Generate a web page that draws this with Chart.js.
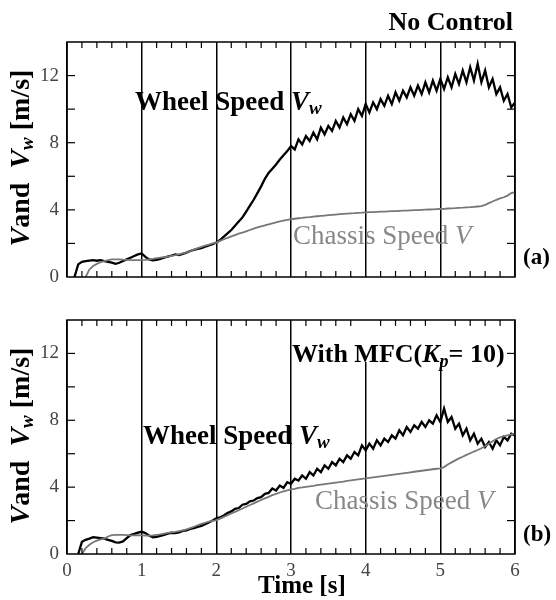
<!DOCTYPE html>
<html>
<head>
<meta charset="utf-8">
<script src="https://cdn.jsdelivr.net/npm/chart.js@4.4.0/dist/chart.umd.min.js"></script>
<style>
  body { margin: 0; background: #fff; }
  .panel { position: absolute; left: 0; width: 556px; height: 300px; }
</style>
</head>
<body>
<div class="panel" style="top:0"><canvas id="chartA" width="556" height="300"></canvas></div>
<div class="panel" style="top:300px"><canvas id="chartB" width="556" height="300"></canvas></div>
<script>
// time [s]
var time = [
  0, 0.05, 0.1, 0.15, 0.2, 0.25, 0.3, 0.35, 0.4, 0.45,
  0.5, 0.55, 0.6, 0.65, 0.7, 0.75, 0.8, 0.85, 0.9, 0.95,
  1, 1.05, 1.1, 1.15, 1.2, 1.25, 1.3, 1.35, 1.4, 1.45,
  1.5, 1.55, 1.6, 1.65, 1.7, 1.75, 1.8, 1.85, 1.9, 1.95,
  2, 2.05, 2.1, 2.15, 2.2, 2.25, 2.3, 2.35, 2.4, 2.45,
  2.5, 2.55, 2.6, 2.65, 2.7, 2.75, 2.8, 2.85, 2.9, 2.95,
  3, 3.05, 3.1, 3.15, 3.2, 3.25, 3.3, 3.35, 3.4, 3.45,
  3.5, 3.55, 3.6, 3.65, 3.7, 3.75, 3.8, 3.85, 3.9, 3.95,
  4, 4.05, 4.1, 4.15, 4.2, 4.25, 4.3, 4.35, 4.4, 4.45,
  4.5, 4.55, 4.6, 4.65, 4.7, 4.75, 4.8, 4.85, 4.9, 4.95,
  5, 5.05, 5.1, 5.15, 5.2, 5.25, 5.3, 5.35, 5.4, 5.45,
  5.5, 5.55, 5.6, 5.65, 5.7, 5.75, 5.8, 5.85, 5.9, 5.95,
  6
];

// (a) No Control
var wheelA = [
  null, null, 0, 0.75, 0.9, 0.95, 0.98, 1.0, 0.97, 1.0,
  0.95, 0.9, 0.85, 0.78, 0.85, 0.95, 1.05, 1.15, 1.25, 1.35,
  1.4, 1.2, 1.05, 1.0, 1.02, 1.08, 1.15, 1.22, 1.28, 1.35,
  1.3, 1.38, 1.45, 1.55, 1.62, 1.68, 1.72, 1.8, 1.88, 1.95,
  2.05, 2.2, 2.4, 2.6, 2.8, 3.05, 3.3, 3.55, 3.9, 4.25,
  4.6, 5.0, 5.4, 5.85, 6.2, 6.45, 6.7, 7.0, 7.25, 7.5,
  7.8, 7.6, 8.2, 7.9, 8.4, 8.1, 8.6, 8.2, 8.9, 8.5,
  9.0, 8.7, 9.3, 8.9, 9.5, 9.1, 9.7, 9.3, 10.0, 9.6,
  10.3, 9.8, 10.4, 10.0, 10.6, 10.2, 10.8, 10.3, 11.0, 10.5,
  11.1, 10.7, 11.3, 10.8, 11.4, 10.9, 11.6, 11.0, 11.7, 11.1,
  11.8, 11.2, 11.9, 11.3, 12.1, 11.5, 12.3, 11.6, 12.5, 11.7,
  12.7, 11.6, 12.3, 11.3, 11.8, 10.9, 11.3, 10.5, 10.9, 10.1,
  10.4
];
var chassisA = [
  null, null, null, null, null, 0, 0.45, 0.65, 0.78, 0.88,
  0.95, 1.0, 1.05, 1.05, 1.05, 1.03, 1.02, 1.0, 1.0, 1.0,
  1.0, 1.02, 1.05, 1.08, 1.12, 1.15, 1.18, 1.22, 1.26, 1.3,
  1.35, 1.4, 1.47, 1.55, 1.63, 1.72, 1.8, 1.87, 1.93, 2.0,
  2.05, 2.15, 2.25, 2.33, 2.42, 2.5, 2.58, 2.64, 2.72, 2.8,
  2.88, 2.95, 3.02, 3.08, 3.14, 3.2, 3.26, 3.31, 3.36, 3.4,
  3.44, 3.47, 3.5, 3.52, 3.55, 3.57, 3.6, 3.62, 3.64, 3.66,
  3.68, 3.7, 3.72, 3.74, 3.76, 3.78, 3.79, 3.8, 3.82, 3.83,
  3.85, 3.86, 3.87, 3.88, 3.89, 3.9, 3.91, 3.92, 3.93, 3.94,
  3.95, 3.96, 3.97, 3.98, 3.99, 4.0, 4.01, 4.02, 4.03, 4.04,
  4.05, 4.06, 4.08, 4.09, 4.1, 4.12, 4.13, 4.15, 4.16, 4.18,
  4.2, 4.22, 4.3, 4.4, 4.5, 4.6, 4.68, 4.75, 4.85, 5.0,
  5.05
];

// (b) With MFC (Kp = 10)
var wheelB = [
  null, null, null, 0, 0.73, 0.85, 0.92, 1.0, 0.98, 0.95,
  0.92, 0.85, 0.78, 0.7, 0.68, 0.75, 0.95, 1.13, 1.2, 1.28,
  1.33, 1.25, 1.1, 1.0, 1.02, 1.08, 1.15, 1.22, 1.27, 1.25,
  1.3, 1.38, 1.42, 1.5, 1.55, 1.62, 1.68, 1.78, 1.88, 2.0,
  2.13, 2.2, 2.3, 2.45, 2.55, 2.7, 2.75, 2.95, 3.0, 3.15,
  3.2, 3.35, 3.4, 3.6, 3.65, 3.92, 3.8, 4.1, 3.95, 4.3,
  4.2, 4.5, 4.4, 4.7, 4.5, 4.9, 4.7, 5.1, 4.9, 5.3,
  5.1, 5.5, 5.3, 5.7, 5.5, 5.9, 5.7, 6.1, 5.9, 6.5,
  6.2, 6.6, 6.3, 6.8, 6.5, 6.9, 6.7, 7.1, 6.9, 7.4,
  7.1, 7.6, 7.3, 7.7, 7.5, 7.9, 7.6, 8.0, 7.8, 8.3,
  7.9, 8.7, 7.9, 8.2, 7.5, 7.8, 7.1, 7.5, 6.8, 7.2,
  6.6, 6.9, 6.4, 6.7, 6.3, 6.8, 6.5, 7.0, 6.8, 7.2,
  7.1
];
var chassisB = [
  null, null, null, null, 0, 0.35, 0.55, 0.7, 0.8, 0.87,
  0.92, 1.05, 1.13, 1.15, 1.15, 1.14, 1.13, 1.12, 1.12, 1.13,
  1.12, 1.1, 1.1, 1.12, 1.15, 1.18, 1.22, 1.26, 1.3, 1.33,
  1.37, 1.42, 1.48, 1.55, 1.63, 1.72, 1.8, 1.87, 1.93, 1.98,
  2.03, 2.12, 2.22, 2.32, 2.42, 2.52, 2.62, 2.72, 2.83, 2.93,
  3.03, 3.13, 3.23, 3.33, 3.42, 3.52, 3.6, 3.68, 3.75, 3.81,
  3.86, 3.9, 3.95, 3.98, 4.02, 4.05, 4.08, 4.12, 4.15, 4.18,
  4.21, 4.24, 4.27, 4.3, 4.33, 4.37, 4.4, 4.44, 4.47, 4.5,
  4.53, 4.56, 4.59, 4.62, 4.65, 4.68, 4.71, 4.74, 4.77, 4.8,
  4.83, 4.86, 4.89, 4.92, 4.95, 4.98, 5.01, 5.04, 5.07, 5.1,
  5.12, 5.2, 5.35, 5.48, 5.6, 5.72, 5.82, 5.93, 6.03, 6.13,
  6.22, 6.33, 6.45, 6.6, 6.75, 6.88, 6.98, 7.05, 7.1, 7.15,
  7.2
];

var yLabels = [0, 4, 8, 12];

var SERIF = '"Liberation Serif", "Times New Roman", serif';
function f(style, size) { return style + ' ' + size + 'px ' + SERIF; }

// draw a run of text pieces with different fonts: [text, font, dy]
function richText(ctx, parts, x, y, align) {
  var w = 0;
  parts.forEach(function (p) { ctx.font = p[1]; w += ctx.measureText(p[0]).width; });
  var cx = align === 'right' ? x - w : (align === 'center' ? x - w / 2 : x);
  parts.forEach(function (p) {
    ctx.font = p[1];
    ctx.fillText(p[0], cx, y + (p[2] || 0));
    cx += ctx.measureText(p[0]).width;
  });
}

function line(ctx, x1, y1, x2, y2) {
  ctx.beginPath(); ctx.moveTo(x1, y1); ctx.lineTo(x2, y2); ctx.stroke();
}

var framePlugin = {
  id: 'frame',
  afterDraw: function (chart, args, opts) {
    var ctx = chart.ctx, a = chart.chartArea;
    var xs = chart.scales.x, ys = chart.scales.y;
    ctx.save();
    if (opts.mask) {
      ctx.fillStyle = '#fff';
      ctx.fillRect(opts.mask[0], a.top, opts.mask[1] - opts.mask[0], opts.mask[2] - a.top);
    }
    ctx.strokeStyle = '#000';
    ctx.lineWidth = 1.5;
    ctx.strokeRect(a.left, a.top, a.right - a.left, a.bottom - a.top);
    ctx.lineWidth = 1.2;
    for (var v = 2; v < 14; v += 2) {
      var py = ys.getPixelForValue(v);
      line(ctx, a.left, py, a.left + 8, py);
      line(ctx, a.right, py, a.right - 8, py);
    }
    for (var k = 1; k < 30; k++) {
      if (k % 5 === 0) continue;
      var px = xs.getPixelForValue(k * 0.2);
      line(ctx, px, a.top, px, a.top + 6);
      line(ctx, px, a.bottom, px, a.bottom - 6);
    }
    // labels
    ctx.textBaseline = 'middle';
    opts.labels.forEach(function (l) {
      ctx.fillStyle = l.color || '#000';
      richText(ctx, l.parts, l.x, l.y, l.align);
    });
    // rotated y title
    ctx.fillStyle = '#000';
    ctx.translate(22, opts.titleY);
    ctx.rotate(-Math.PI / 2);
    richText(ctx, [
      ['V', f('italic bold', 28)], ['and  ', f('bold', 28)],
      ['V', f('italic bold', 28)], ['w', f('italic bold', 19), 6],
      [' [m/s]', f('bold', 28)]
    ], 0, 0, 'center');
    ctx.restore();
  }
};

function makePanel(id, wheel, chassis, cfg) {
  var wheelPts = time.map(function (t, i) { return { x: t, y: wheel[i] }; });
  var chassisPts = time.map(function (t, i) { return { x: t, y: chassis[i] }; });
  return new Chart(document.getElementById(id), {
    type: 'line',
    data: {
      datasets: [
        { label: 'Chassis Speed V', data: chassisPts, borderColor: '#777', borderWidth: 1.8,
          pointRadius: 0, tension: 0, order: 0 },
        { label: 'Wheel Speed Vw', data: wheelPts, borderColor: '#000', borderWidth: 2.3,
          pointRadius: 0, tension: 0, order: 1 }
      ]
    },
    options: {
      responsive: false,
      animation: false,
      events: [],
      layout: { padding: cfg.padding },
      plugins: {
        legend: { display: false },
        tooltip: { enabled: false },
        frame: { labels: cfg.labels, titleY: cfg.titleY, mask: cfg.mask }
      },
      scales: {
        x: {
          type: 'linear', min: 0, max: 6,
          border: { display: false },
          grid: { color: '#000', lineWidth: 1.5, drawTicks: false },
          ticks: { display: cfg.xLabels, stepSize: 1, padding: 6, color: '#444',
                   font: { family: SERIF, size: 19 } },
          afterFit: function (s) { s.height = cfg.xHeight; }
        },
        y: {
          min: 0, max: 14,
          border: { display: false },
          grid: { display: false, drawTicks: false },
          ticks: { stepSize: 2, padding: 8, color: '#444', font: { family: SERIF, size: 19 },
                   callback: function (v) { return yLabels.indexOf(v) >= 0 ? String(v) : ''; } },
          afterFit: function (s) { s.width = 67; }
        }
      }
    },
    plugins: [framePlugin]
  });
}

makePanel('chartA', wheelA, chassisA, {
  padding: { top: 42, right: 41, bottom: 23, left: 0 },
  xLabels: false, xHeight: 0, titleY: 158,
  labels: [
    { x: 513, y: 23, align: 'right', parts: [['No Control', f('bold', 26)]] },
    { x: 135, y: 103, parts: [['Wheel Speed ', f('bold', 27)], ['V', f('italic bold', 27)], ['w', f('italic bold', 19), 6]] },
    { x: 293, y: 237, color: '#888', parts: [['Chassis Speed ', f('', 27)], ['V', f('italic', 27)]] },
    { x: 523, y: 258, parts: [['(a)', f('bold', 23)]] }
  ]
});

makePanel('chartB', wheelB, chassisB, {
  padding: { top: 20, right: 41, bottom: 0, left: 0 },
  xLabels: true, xHeight: 46, titleY: 136,
  mask: [294, 512, 62],
  labels: [
    { x: 292, y: 55, parts: [['With MFC(', f('bold', 26)], ['K', f('italic bold', 26)], ['p', f('italic bold', 18), 7], ['= 10)', f('bold', 26)]] },
    { x: 143, y: 137, parts: [['Wheel Speed ', f('bold', 27)], ['V', f('italic bold', 27)], ['w', f('italic bold', 19), 6]] },
    { x: 315, y: 202, color: '#888', parts: [['Chassis Speed ', f('', 27)], ['V', f('italic', 27)]] },
    { x: 523, y: 235, parts: [['(b)', f('bold', 23)]] },
    { x: 258, y: 287, parts: [['Time [s]', f('bold', 25)]] }
  ]
});
</script>
</body>
</html>
